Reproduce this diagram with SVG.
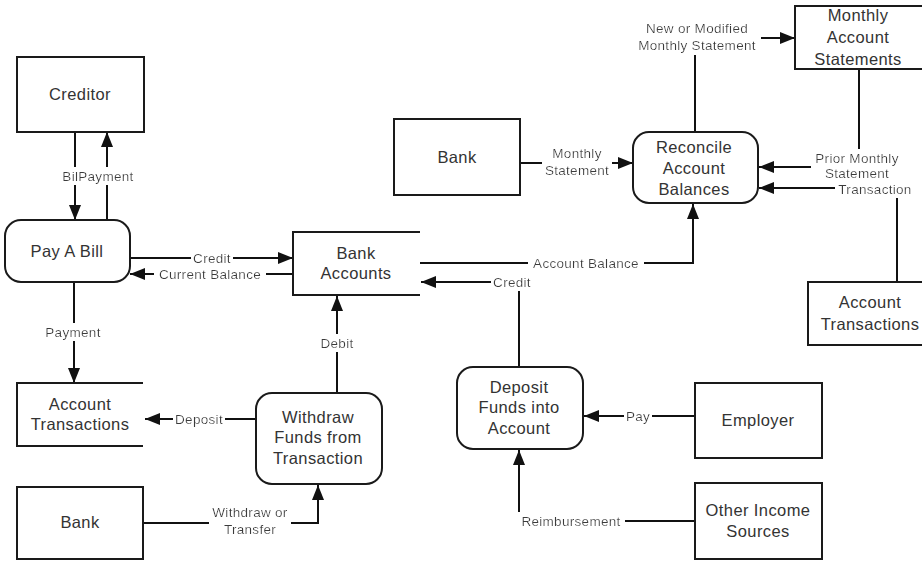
<svg xmlns="http://www.w3.org/2000/svg" width="922" height="562" viewBox="0 0 922 562">
  <style>
    .box { fill: #ffffff; stroke: #1a1a1a; stroke-width: 2; }
    .store { fill: none; stroke: #1a1a1a; stroke-width: 2; }
    .node-text { font-family: "Liberation Sans", Arial, sans-serif; font-size: 16.5px; letter-spacing: 0.4px; fill: #333333; text-anchor: middle; dominant-baseline: central; }
    .flow { fill: none; stroke: #111111; stroke-width: 2; }
    .arrow { marker-end: url(#head); }
    .label { font-family: "Liberation Sans", Arial, sans-serif; font-size: 13.5px; letter-spacing: 0.3px; fill: #3a3a3a; text-anchor: middle; dominant-baseline: central; filter: url(#knockout); }
  </style>
  <defs>
    <marker id="head" markerUnits="userSpaceOnUse" markerWidth="15" markerHeight="12" refX="15" refY="6" orient="auto">
      <path d="M0,0 L15,6 L0,12 Z" fill="#111111"/>
    </marker>
    <!-- white backing behind flow labels so the line breaks around the text -->
    <filter id="knockout" x="-0.04" y="-0.05" width="1.08" height="1.1">
      <feFlood flood-color="#ffffff"/>
      <feComposite in="SourceGraphic" operator="over"/>
    </filter>
  </defs>

  <rect width="922" height="562" fill="#ffffff"/>

  <!-- data flows -->
  <g id="connectors">
    <path class="flow arrow" d="M75,132 V220"/>
    <path class="flow arrow" d="M107,220 V132"/>
    <path class="flow arrow" d="M130,258 H293"/>
    <path class="flow arrow" d="M293,274 H130"/>
    <path class="flow arrow" d="M74,282 V383"/>
    <path class="flow arrow" d="M256,419 H145"/>
    <path class="flow arrow" d="M337,393 V296"/>
    <path class="flow arrow" d="M143,523 H318 V485"/>
    <path class="flow arrow" d="M420,263 H693 V204"/>
    <path class="flow arrow" d="M519,367 V282 H421"/>
    <path class="flow arrow" d="M695,416 H584"/>
    <path class="flow arrow" d="M695,521 H519 V450"/>
    <path class="flow arrow" d="M520,163 H633"/>
    <path class="flow arrow" d="M695,132 V38 H795"/>
    <path class="flow arrow" d="M859,69 V167 H759"/>
    <path class="flow arrow" d="M897,282 V188 H759"/>

    <text class="label" x="98" y="176">BilPayment</text>
    <text class="label" x="212" y="258">Credit</text>
    <text class="label" x="210" y="274">Current Balance</text>
    <text class="label" x="73" y="332">Payment</text>
    <text class="label" x="199" y="419">Deposit</text>
    <text class="label" x="337" y="343">Debit</text>
    <text class="label" x="250" y="521"><tspan x="250" dy="-9">Withdraw or</tspan><tspan x="250" dy="17">Transfer</tspan></text>
    <text class="label" x="586" y="263">Account Balance</text>
    <text class="label" x="512" y="282">Credit</text>
    <text class="label" x="638" y="416">Pay</text>
    <text class="label" x="571" y="521">Reimbursement</text>
    <text class="label" x="577" y="162"><tspan x="577" dy="-9">Monthly</tspan><tspan x="577" dy="17">Statement</tspan></text>
    <text class="label" x="697" y="36"><tspan x="697" dy="-8">New or Modified</tspan><tspan x="697" dy="17">Monthly Statement</tspan></text>
    <text class="label" x="857" y="166"><tspan x="857" dy="-8">Prior Monthly</tspan><tspan x="857" dy="15">Statement</tspan></text>
    <text class="label" x="875" y="189">Transaction</text>
  </g>

  <!-- external entities -->
  <g id="creditor">
    <rect class="box" x="17" y="57" width="127" height="75"/>
    <text class="node-text" x="80" y="94">Creditor</text>
  </g>
  <g id="bank-statement-source">
    <rect class="box" x="394" y="119" width="126" height="76"/>
    <text class="node-text" x="457" y="157">Bank</text>
  </g>
  <g id="bank-transfer-source">
    <rect class="box" x="17" y="487" width="126" height="72"/>
    <text class="node-text" x="80" y="522">Bank</text>
  </g>
  <g id="employer">
    <rect class="box" x="695" y="383" width="127" height="75"/>
    <text class="node-text" x="758" y="420">Employer</text>
  </g>
  <g id="other-income">
    <rect class="box" x="695" y="483" width="127" height="76"/>
    <text class="node-text" x="758" y="510">Other Income</text>
    <text class="node-text" x="758" y="531">Sources</text>
  </g>

  <!-- processes -->
  <g id="pay-a-bill">
    <rect class="box" x="5" y="220" width="125" height="62" rx="16"/>
    <text class="node-text" x="67" y="251">Pay A Bill</text>
  </g>
  <g id="withdraw-funds">
    <rect class="box" x="256" y="393" width="126" height="91" rx="16"/>
    <text class="node-text" x="318" y="417">Withdraw</text>
    <text class="node-text" x="318" y="437">Funds from</text>
    <text class="node-text" x="318" y="458">Transaction</text>
  </g>
  <g id="deposit-funds">
    <rect class="box" x="457" y="367" width="126" height="82" rx="16"/>
    <text class="node-text" x="519" y="387">Deposit</text>
    <text class="node-text" x="519" y="407">Funds into</text>
    <text class="node-text" x="519" y="428">Account</text>
  </g>
  <g id="reconcile-balances">
    <rect class="box" x="633" y="132" width="125" height="71" rx="16"/>
    <text class="node-text" x="694" y="147">Reconcile</text>
    <text class="node-text" x="694" y="168">Account</text>
    <text class="node-text" x="694" y="189">Balances</text>
  </g>

  <!-- data stores -->
  <g id="bank-accounts">
    <path class="store" d="M420,232 H293 V295 H420"/>
    <text class="node-text" x="356" y="253">Bank</text>
    <text class="node-text" x="356" y="273">Accounts</text>
  </g>
  <g id="account-transactions-left">
    <path class="store" d="M143,383 H17 V446 H143"/>
    <text class="node-text" x="80" y="404">Account</text>
    <text class="node-text" x="80" y="424">Transactions</text>
  </g>
  <g id="account-transactions-right">
    <path class="store" d="M930,282 H808 V345 H930"/>
    <text class="node-text" x="870" y="302">Account</text>
    <text class="node-text" x="870" y="324">Transactions</text>
  </g>
  <g id="monthly-statements">
    <path class="store" d="M930,6 H795 V69 H930"/>
    <text class="node-text" x="858" y="15">Monthly</text>
    <text class="node-text" x="858" y="37">Account</text>
    <text class="node-text" x="858" y="59">Statements</text>
  </g>
</svg>
